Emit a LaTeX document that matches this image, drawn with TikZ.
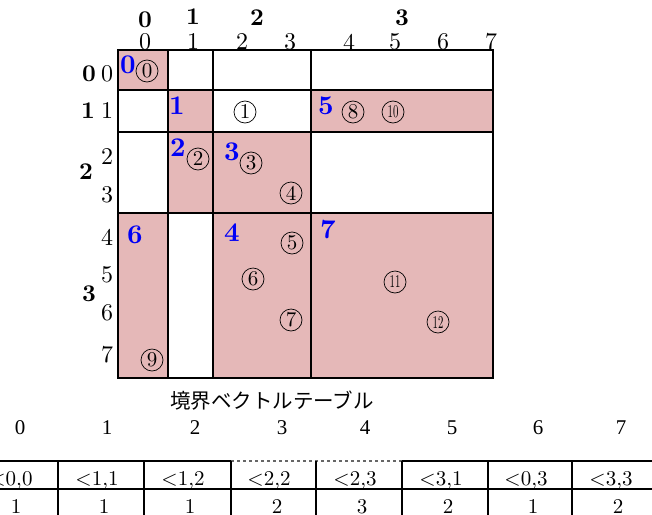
\documentclass[tikz,border=0pt]{standalone}
\usepackage{fontspec}
\usepackage{graphicx}
\setmainfont{lmroman10-regular.otf}[BoldFont=lmroman10-bold.otf]
\newfontfamily\cjkfont{Noto Sans CJK JP}
\newfontfamily\timesfont{Liberation Serif}
\definecolor{cellpink}{RGB}{229,184,184}
\definecolor{idblue}{RGB}{0,0,245}
\begin{document}
\begin{tikzpicture}[x=1pt,y=-1pt,
  gl/.style={line width=1.6pt},
  pinkcell/.style={gl, fill=cellpink},
  whitecell/.style={gl, fill=white},
  lab/.style={inner sep=0pt, font=\fontsize{24}{24}\selectfont},
  blab/.style={inner sep=0pt, font=\fontsize{24}{24}\selectfont\bfseries},
  bid/.style={inner sep=0pt, text=idblue, font=\fontsize{27}{27}\selectfont\bfseries},
  circ/.style={draw, circle, line width=0.7pt, minimum size=22pt, inner sep=0pt, font=\fontsize{21}{21}\selectfont},
  idx/.style={inner sep=0pt, font=\fontsize{21}{21}\selectfont\timesfont},
  tcell/.style={inner sep=0pt, anchor=base, font=\fontsize{21}{21}\selectfont},
  tl/.style={line width=1.4pt}]
\useasboundingbox (0,0) rectangle (652,514);
\fill[white] (0,0) rectangle (652,514);

% ---- grid blocks ----
\draw[pinkcell]  (118,50) rectangle (168,90);
\draw[whitecell] (168,50) rectangle (213,90);
\draw[whitecell] (213,50) rectangle (311,90);
\draw[whitecell] (311,50) rectangle (493,90);
\draw[whitecell] (118,90) rectangle (168,132);
\draw[pinkcell]  (168,90) rectangle (213,132);
\draw[whitecell] (213,90) rectangle (311,132);
\draw[pinkcell]  (311,90) rectangle (493,132);
\draw[whitecell] (118,132) rectangle (168,213);
\draw[pinkcell]  (168,132) rectangle (213,213);
\draw[pinkcell]  (213,132) rectangle (311,213);
\draw[whitecell] (311,132) rectangle (493,213);
\draw[pinkcell]  (118,213) rectangle (168,378);
\draw[whitecell] (168,213) rectangle (213,378);
\draw[pinkcell]  (213,213) rectangle (311,378);
\draw[pinkcell]  (311,213) rectangle (493,378);

% ---- column labels ----
\node[blab] (cb0) at (145,20) {0};
\node[blab] (cb1) at (193,17) {1};
\node[blab] (cb2) at (257,18) {2};
\node[blab] (cb3) at (402,18) {3};
\foreach \i/\x in {0/145,1/193,2/242,3/290,4/349,5/395,6/443,7/491}
  \node[lab] (cs\i) at (\x,42) {\i};

% ---- row labels ----
\node[blab] (rb0) at (89,74) {0};
\node[blab] (rb1) at (88,111) {1};
\node[blab] (rb2) at (86,172) {2};
\node[blab] (rb3) at (89,294) {3};
\foreach \i/\y in {0/74,1/111,2/157,3/195,4/237,5/275,6/313,7/355}
  \node[lab] (rs\i) at (107,\y) {\i};

% ---- blue block ids ----
\node[bid] (b0) at (128,65) {0};
\node[bid] (b1) at (177,106) {1};
\node[bid] (b5) at (326,106) {5};
\node[bid] (b2) at (178,148) {2};
\node[bid] (b3) at (232,152) {3};
\node[bid] (b6) at (135,235) {6};
\node[bid] (b4) at (232,233) {4};
\node[bid] (b7) at (328,230) {7};

% ---- circled numbers ----
\node[circ] (c0) at (147,71) {0};
\node[circ] (c1) at (245,112) {1};
\node[circ] (c8) at (353,112) {8};
\node[circ] (c10) at (393,112) {\fontsize{18}{18}\selectfont\scalebox{0.6}[1]{10}};
\node[circ] (c2) at (198,159) {2};
\node[circ] (c3) at (251,163) {3};
\node[circ] (c4) at (291,193) {4};
\node[circ] (c5) at (292,243) {5};
\node[circ] (c6) at (253,279) {6};
\node[circ] (c7) at (291,320) {7};
\node[circ] (c9) at (152,360) {9};
\node[circ] (c11) at (395,282) {\fontsize{18}{18}\selectfont\scalebox{0.6}[1]{11}};
\node[circ] (c12) at (438,322) {\fontsize{18}{18}\selectfont\scalebox{0.6}[1]{12}};

% ---- caption ----
\node[inner sep=0pt, font=\fontsize{20.5}{20.5}\selectfont\cjkfont] (cap) at (272,401) {境界ベクトルテーブル};

% ---- index row ----
\foreach \i/\x in {0/20,1/107,2/195,3/282,4/365,5/452,6/538,7/621}
  \node[idx] (ix\i) at (\x,428) {\i};

% ---- table ----
\draw[tl] (0,461) -- (231,461);
\draw[tl, dashed, gray!80!black] (231,461) -- (402,461);
\draw[tl] (402,461) -- (652,461);
\draw[line width=1.8pt] (0,489) -- (652,489);
\foreach \x in {58,144,231,316,402,488,572}
  \draw[tl] (\x,461) -- (\x,530);
\foreach \i/\x/\t in {0/11/{<0,0},1/97/{<1,1},2/183/{<1,2},3/269/{<2,2},4/355/{<2,3},5/441/{<3,1},6/526/{<0,3},7/611/{<3,3}}
  \node[tcell] (tk\i) at (\x,485) {\t};
\foreach \i/\x/\t in {0/16/1,1/104/1,2/190/1,3/277/2,4/362/3,5/448/2,6/533/1,7/618/2}
  \node[tcell] (tv\i) at (\x,513) {\t};
\end{tikzpicture}
\end{document}
